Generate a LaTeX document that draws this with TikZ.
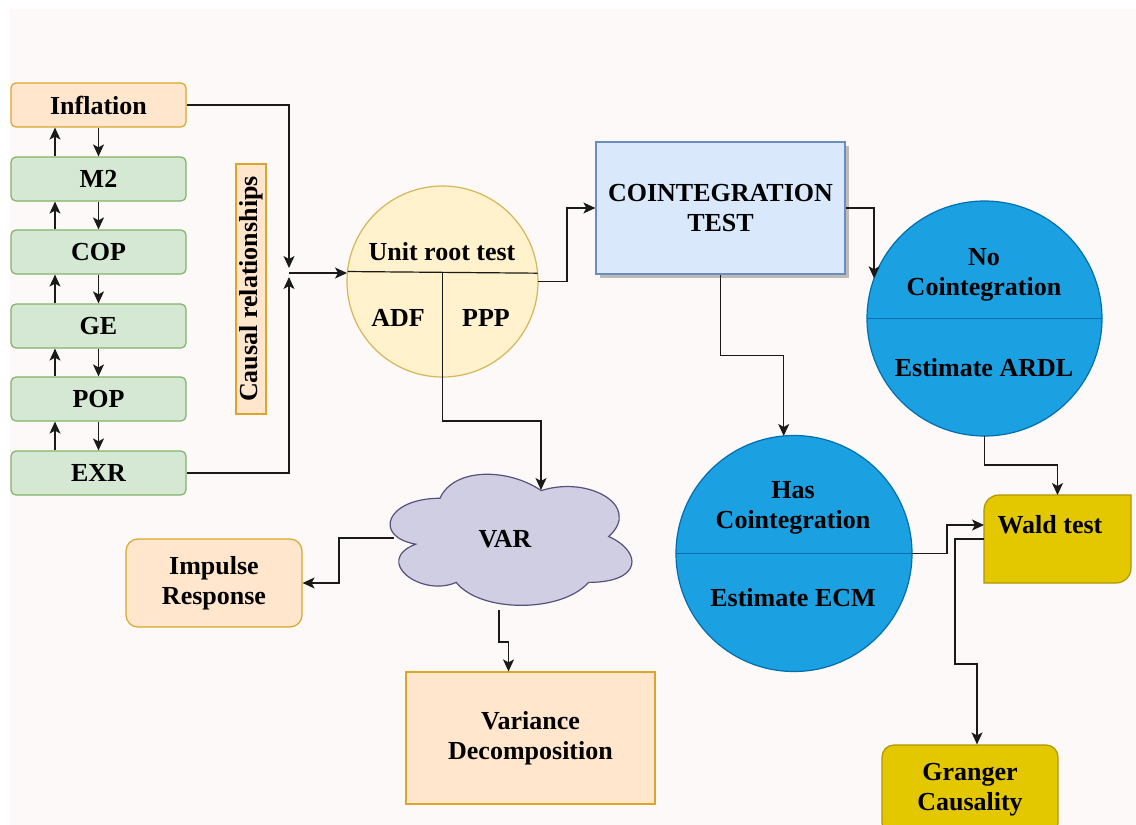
\documentclass[tikz,border=0pt]{standalone}
\usepackage{fontspec}
\setmainfont{Liberation Serif}
\usetikzlibrary{arrows.meta,shadows,calc}
\definecolor{bgc}{HTML}{FDF9F8}
\definecolor{orfill}{HTML}{FFE6CC}
\definecolor{ordraw}{HTML}{DDA62A}
\definecolor{grfill}{HTML}{D5E8D4}
\definecolor{grdraw}{HTML}{82B366}
\definecolor{yefill}{HTML}{FFF2CC}
\definecolor{yedraw}{HTML}{D6B656}
\definecolor{blfill}{HTML}{DAE8FC}
\definecolor{bldraw}{HTML}{6C8EBF}
\definecolor{cyfill}{HTML}{1BA1E2}
\definecolor{cydraw}{HTML}{006EAF}
\definecolor{gofill}{HTML}{E3C800}
\definecolor{godraw}{HTML}{B09500}
\definecolor{clfill}{HTML}{D0CEE2}
\definecolor{cldraw}{HTML}{56517E}
\definecolor{linec}{HTML}{1A1A1A}
\begin{document}
\begin{tikzpicture}[x=0.5pt,y=-0.5pt,
  txt/.style={font=\fontsize{13}{15}\selectfont\bfseries, align=center, inner sep=0pt},
  varbox/.style={txt, draw=grdraw, fill=grfill, line width=0.6pt, rounded corners=2.5pt, minimum width=87.5pt, minimum height=22pt},
  orbox/.style={txt, draw=ordraw, fill=orfill, line width=0.6pt},
  ucircle/.style={circle, draw=yedraw, fill=yefill, line width=0.6pt, minimum size=95.5pt, inner sep=0pt, outer sep=0pt},
  bcircle/.style={circle, draw=cydraw, fill=cyfill, line width=0.6pt, inner sep=0pt, outer sep=0pt},
  arr/.style={draw=linec, line width=0.6pt, -{Stealth[length=6pt,width=5.5pt,inset=1.5pt]}},
  conn/.style={draw=linec, line width=0.6pt},
  part/.style={line width=0.6pt}
]
\useasboundingbox (0,0) rectangle (1136,825);
\clip (0,0) rectangle (1136,825);
\fill[white] (0,0) rectangle (1136,825);
\fill[bgc] (10,9) rectangle (1136,825);

% left variable column
\node[orbox, rounded corners=2.5pt, minimum width=87.5pt, minimum height=22pt] (infl) at (98.5,105) {Inflation};
\node[varbox] (m2)  at (98.5,179) {M2};
\node[varbox] (cop) at (98.5,252) {COP};
\node[varbox] (ge)  at (98.5,326) {GE};
\node[varbox] (pop) at (98.5,399) {POP};
\node[varbox] (exr) at (98.5,473) {EXR};
\coordinate (ux) at (55,0);
\foreach \u/\l in {infl/m2, m2/cop, cop/ge, ge/pop, pop/exr}{
  \draw[arr] (\l.north -| ux) -- (\u.south -| ux);
  \draw[arr] (\u.south) -- (\l.north);
}

% causal relationships label
\node[orbox, rotate=90, minimum width=125pt, minimum height=15pt] (causal) at (251,289) {Causal relationships};

% junction
\coordinate (J) at (289,273);
\draw[arr, shorten >=2.5pt] (infl.east) -| (J);
\draw[arr, shorten >=2pt] (exr.east) -| (J);

% unit root circle
\node[ucircle] (urt) at (442.5,281.5) {};
\draw[part, draw=linec] (urt.174.9) -- (urt.5.1);
\draw[conn] (urt.south |- urt.5.1) -- (urt.south);
\node[txt] (ut)  at (442,252) {Unit root test};
\node[txt] (adf) at (398,318) {ADF};
\node[txt] (ppp) at (486,318) {PPP};
\draw[arr] (J) -- (J -| urt.west);

% cointegration test
\node[txt, draw=bldraw, fill=blfill, line width=0.6pt, minimum width=124.5pt, minimum height=66pt,
      drop shadow={shadow xshift=2pt, shadow yshift=-2pt, fill=black, opacity=0.25}] (coint) at (720.5,208) {COINTEGRATION\\TEST};
\draw[arr] (urt.east) -- ++(29,0) |- (coint.west);

% no cointegration
\node[bcircle, minimum size=117.5pt] (nc) at (984.5,318.5) {};
\draw[part, draw=cydraw] (nc.west) -- (nc.east);
\node[txt] (nct) at (984,275) {No\\Cointegration};
\node[txt] (ncb) at (984,368) {Estimate ARDL};
\draw[arr] (coint.east) -| (nc.160);

% has cointegration
\node[bcircle, minimum size=118pt] (hc) at (794,553.5) {};
\draw[part, draw=cydraw] (hc.west) -- (hc.east);
\node[txt] (hct) at (793,507.5) {Has\\Cointegration};
\node[txt] (hcb) at (793,598) {Estimate ECM};
\draw[arr] (coint.south) -- ++(0,81) -| (hc.95);

% wald test
\node[minimum width=73.5pt, minimum height=44pt, inner sep=0pt, outer sep=0pt] (wald) at (1057.5,539) {};
\draw[draw=godraw, fill=gofill, line width=0.6pt]
  (wald.south west) -- ($(wald.north west)+(0,15)$) arc[start angle=180, end angle=90, radius=7.5pt]
  -- (wald.north east) -- ($(wald.south east)+(0,-15)$) arc[start angle=0, end angle=-90, radius=7.5pt] -- cycle;
\node[txt] (waldt) at (1050,525) {Wald test};
\draw[arr] (nc.south) -- ++(0,29) -| (wald.north);
\draw[arr] (hc.east) -- ++(35,0) |- ($(wald.west)+(0,-14)$);

% granger
\node[txt, draw=godraw, fill=gofill, line width=0.6pt, rounded corners=6pt, minimum width=88pt, minimum height=45pt] (gr) at (970,790) {Granger\\Causality};
\draw[arr] (wald.west) -- ++(-29,0) -- ++(0,125) -| ($(gr.north)+(7,0)$);

% VAR cloud (drawn directly)
\begin{scope}[shift={(372.5,460)}, x=135pt, y=-76.5pt]
\draw[draw=cldraw, fill=clfill, line width=0.6pt]
  (0.25,0.25) .. controls (0.05,0.25) and (0,0.5) .. (0.16,0.55)
  .. controls (0,0.66) and (0.18,0.9) .. (0.31,0.8)
  .. controls (0.4,1) and (0.7,1) .. (0.8,0.8)
  .. controls (1,0.8) and (1,0.6) .. (0.875,0.5)
  .. controls (1,0.3) and (0.8,0.1) .. (0.625,0.2)
  .. controls (0.5,0.05) and (0.3,0.05) .. (0.25,0.25) -- cycle;
\end{scope}
\node[minimum width=121pt, minimum height=66pt, inner sep=0pt, outer sep=0pt] (var) at (511,540) {};
\node[txt] (vart) at (505,539) {VAR};
\coordinate (varin) at (541,490);
\draw[arr] (urt.south) -- ++(0,44) -| (varin);

% impulse response
\node[orbox, rounded corners=6pt, minimum width=88pt, minimum height=44pt] (imp) at (214,583) {Impulse\\Response};
\draw[arr] ($(var.west)+(4,-2)$) -- ++(-55,0) |- (imp.east);

% variance decomposition
\node[orbox, minimum width=124.5pt, minimum height=66pt] (vd) at (530.5,738) {Variance\\Decomposition};
\draw[arr] ($(var.south)+(-12,4)$) -- ++(0,32) -| ($(vd.north)+(-22,0)$);
\end{tikzpicture}
\end{document}
